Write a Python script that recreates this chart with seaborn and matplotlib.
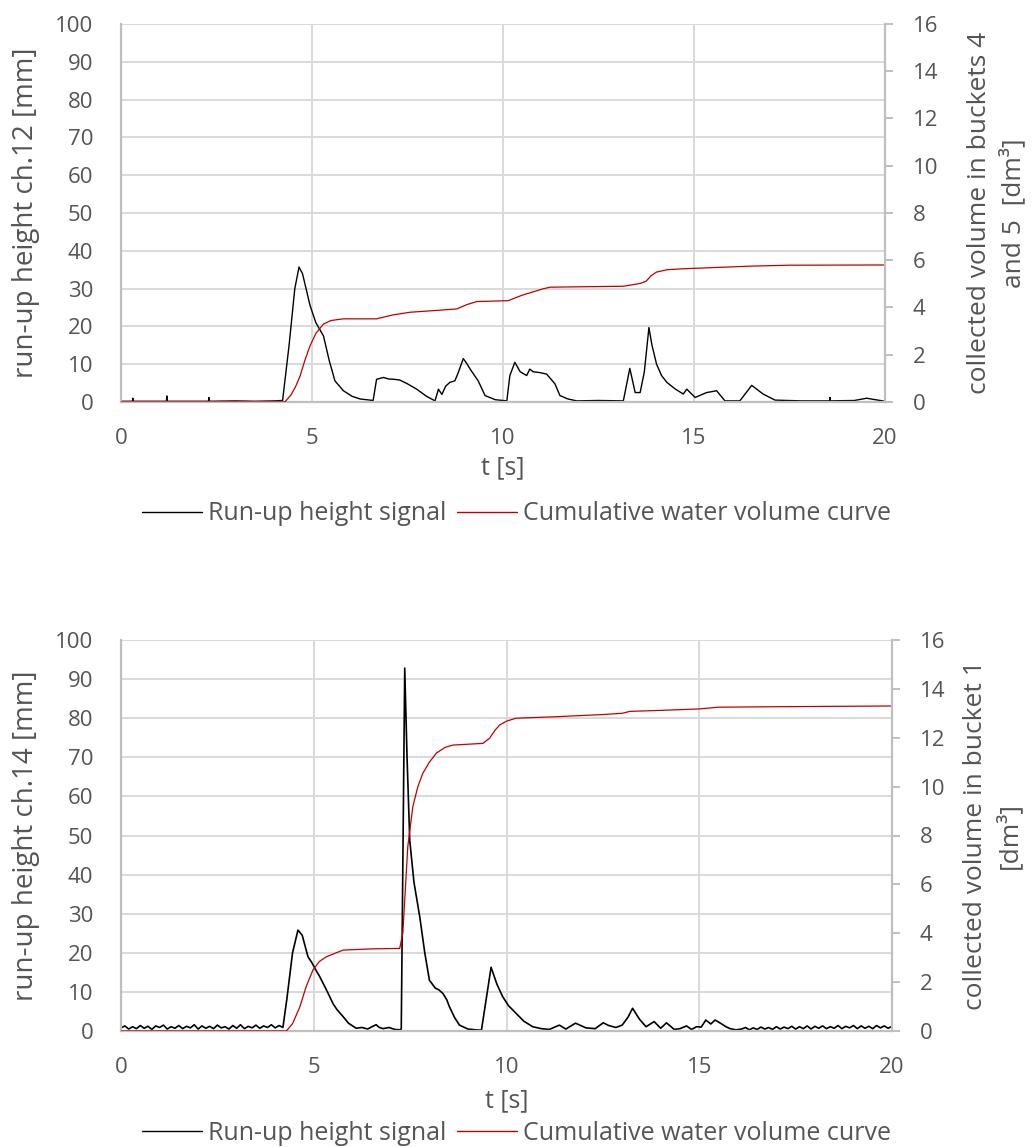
import numpy as np
import matplotlib
matplotlib.use("Agg")
import matplotlib.pyplot as plt
import seaborn as sns
from matplotlib.lines import Line2D

# ---------------- data ----------------
# Panel 1: channel 12, run-up height [mm]
t_ch12 = [0.0, 0.3, 0.31, 0.32, 1.19, 1.2, 1.21, 2.29, 2.3, 2.31, 3.0, 3.5, 4.0, 4.23,
          4.4, 4.55, 4.66, 4.75, 4.95, 5.1, 5.3, 5.45, 5.6, 5.82, 6.05, 6.26, 6.6, 6.69,
          6.8, 6.87, 7.0, 7.15, 7.3, 7.5, 7.74, 8.0, 8.22, 8.31, 8.4, 8.5, 8.61, 8.74,
          8.83, 8.96, 9.05, 9.14, 9.35, 9.53, 9.8, 10.1, 10.18, 10.31, 10.45, 10.62, 10.7,
          10.79, 10.95, 11.14, 11.36, 11.49, 11.7, 11.93, 12.5, 13.15, 13.32, 13.46, 13.59,
          13.7, 13.82, 13.9, 14.02, 14.15, 14.29, 14.5, 14.72, 14.81, 15.03, 15.33, 15.5,
          15.59, 15.81, 16.2, 16.51, 16.81, 17.12, 17.8, 18.55, 18.56, 18.57, 19.2, 19.52,
          19.75, 20.0]
h_ch12 = [0.2, 0.2, 1.0, 0.2, 0.2, 1.6, 0.2, 0.2, 1.2, 0.2, 0.3, 0.2, 0.3, 0.4,
          15, 30, 35.7, 34, 25.5, 21, 17.5, 11, 5.6, 3.0, 1.5, 0.8, 0.4, 6.0,
          6.3, 6.5, 6.1, 6.0, 5.8, 4.8, 3.4, 1.5, 0.3, 3.4, 2.0, 4.2, 5.2, 5.6,
          7.8, 11.5, 10.2, 8.7, 5.6, 1.7, 0.6, 0.3, 7.0, 10.5, 8.0, 7.0, 8.7,
          8.0, 7.8, 7.4, 4.8, 1.7, 0.8, 0.3, 0.4, 0.3, 8.9, 2.5, 2.5,
          8.0, 19.7, 15, 10, 7, 5.2, 3.5, 2.1, 3.4, 1.2, 2.5, 2.8,
          3.0, 0.3, 0.3, 4.4, 2.1, 0.5, 0.3, 0.3, 1.2, 0.3, 0.4, 1.0,
          0.6, 0.2]

# Panel 1: cumulative volume in buckets 4 and 5 [dm3]
t_vol45 = [0.0, 4.29, 4.45, 4.57, 4.69, 4.82, 4.95, 5.1, 5.3, 5.5, 5.82, 6.69, 7.1, 7.57,
           8.3, 8.79, 9.05, 9.31, 10.14, 10.5, 11.05, 11.23, 13.15, 13.6, 13.75, 13.88,
           14.02, 14.3, 14.72, 16.47, 17.5, 20.0]
v_vol45 = [0.0, 0.0, 0.3, 0.65, 1.11, 1.8, 2.38, 2.9, 3.3, 3.45, 3.52, 3.52, 3.68, 3.8,
           3.88, 3.94, 4.12, 4.25, 4.29, 4.52, 4.79, 4.86, 4.9, 5.02, 5.12, 5.35,
           5.5, 5.6, 5.64, 5.75, 5.79, 5.8]

# Panel 2: channel 14, run-up height [mm] (noisy baseline before the first wave)
t_ch14_start = np.round(np.arange(0.0, 4.21, 0.1), 2)
h_ch14_start = [0.8, 1.3, 0.5, 1.1, 0.6, 1.4, 0.7, 1.2, 0.4, 1.3, 0.9, 1.5, 0.5, 1.1,
                0.7, 1.4, 0.6, 1.2, 0.8, 1.6, 0.5, 1.3, 0.7, 1.2, 0.6, 1.5, 0.8, 1.1,
                0.5, 1.4, 0.7, 1.6, 0.6, 1.2, 0.8, 1.5, 0.7, 1.3, 0.9, 1.6, 0.8, 1.4, 0.9]
ch14_waves = [(4.3, 8), (4.45, 20), (4.59, 25.8), (4.7, 24.5), (4.85, 19), (4.95, 17.5),
              (5.03, 16), (5.15, 14), (5.33, 10.5), (5.5, 7), (5.6, 5.5), (5.76, 3.7),
              (5.9, 2.0), (6.1, 0.7), (6.25, 0.9), (6.4, 0.5), (6.55, 1.3), (6.62, 1.6),
              (6.7, 0.9), (6.8, 0.6), (6.95, 0.9), (7.1, 0.4), (7.23, 0.3), (7.27, 0.5),
              (7.36, 92.8), (7.42, 70), (7.49, 48.8), (7.6, 38), (7.75, 29.2), (7.88, 20),
              (8.0, 13), (8.15, 11), (8.25, 10.5), (8.35, 9.6), (8.45, 8), (8.52, 6.2),
              (8.65, 3.5), (8.78, 1.5), (9.0, 0.5), (9.2, 0.3), (9.35, 0.2), (9.47, 8),
              (9.6, 16.3), (9.75, 12), (9.9, 8.8), (10.05, 6.5), (10.25, 4.5), (10.45, 2.5),
              (10.68, 1.1), (10.9, 0.6), (11.11, 0.4), (11.25, 1.0), (11.37, 1.5),
              (11.54, 0.5), (11.79, 2.0), (11.9, 1.5), (12.06, 0.8), (12.3, 0.6),
              (12.51, 2.1), (12.65, 1.4), (12.84, 0.9), (13.0, 1.5), (13.15, 3.5),
              (13.27, 5.8), (13.45, 3.0), (13.62, 1.1), (13.83, 2.4), (14.0, 0.7),
              (14.15, 2.1), (14.35, 0.4), (14.5, 0.6), (14.67, 1.3), (14.8, 0.4),
              (14.93, 1.1), (15.05, 1.0), (15.17, 2.8), (15.3, 1.8), (15.41, 2.8),
              (15.55, 2.0), (15.69, 1.1), (15.8, 0.6), (15.95, 0.3)]
t_ch14_end = np.round(np.arange(16.1, 20.01, 0.1), 2)
h_ch14_end = [0.5, 0.9, 0.3, 0.8, 0.4, 1.0, 0.5, 0.9, 0.4, 1.1, 0.5, 1.0, 0.6, 1.2,
              0.5, 1.1, 0.6, 1.3, 0.5, 1.2, 0.7, 1.3, 0.6, 1.1, 0.7, 1.4, 0.6, 1.2,
              0.8, 1.4, 0.6, 1.3, 0.7, 1.2, 0.6, 1.4, 0.8, 1.3, 0.7, 1.2]

# Panel 2: cumulative volume in bucket 1 [dm3]
vol1_points = [(0.0, 0.0), (4.29, 0.0), (4.45, 0.3), (4.64, 0.99), (4.8, 1.8), (4.98, 2.5),
               (5.15, 2.85), (5.33, 3.04), (5.76, 3.31), (6.5, 3.36), (7.23, 3.38),
               (7.31, 4.0), (7.44, 7.55), (7.57, 9.18), (7.7, 10.0), (7.83, 10.55),
               (8.0, 11.0), (8.18, 11.37), (8.4, 11.6), (8.61, 11.7), (9.39, 11.77),
               (9.56, 11.98), (9.7, 12.3), (9.82, 12.52), (10.0, 12.68), (10.25, 12.8),
               (11.28, 12.86), (12.5, 12.95), (13.0, 13.0), (13.2, 13.08), (14.0, 13.12),
               (15.0, 13.18), (15.5, 13.25), (17.0, 13.27), (20.0, 13.3)]

x_ticks = [0, 5, 10, 15, 20]
left_ticks = list(range(0, 101, 10))
right_ticks = list(range(0, 17, 2))

label_left_1 = "run-up height ch.12 [mm]"
label_right_1 = "collected volume in buckets 4\nand 5  [dm³]"
label_left_2 = "run-up height ch.14 [mm]"
label_right_2 = "collected volume in bucket 1\n[dm³]"
label_x = "t [s]"
legend_labels = ["Run-up height signal", "Cumulative water volume curve"]

# ---------------- style ----------------
sns.set_theme(style="white")
plt.rcParams['font.family'] = ['Open Sans', 'DejaVu Sans']
TXT = '#555555'
GRID = '#d9d9d9'
SPINE = '#bfbfbf'
RED = '#c00000'
FS_TICK = 16
FS_LAB = 20
FS_RLAB = 19
FS_X = 18
FS_LEG = 18

W, H = 1035, 1147
fig = plt.figure(figsize=(W / 100, H / 100), dpi=100)


def px_rect(left, right, top, bottom):
    return [left / W, 1 - bottom / H, (right - left) / W, (bottom - top) / H]


def panel(rect, t_h, h, t_v, v, ylab, rlab, lw_black, lab_x_left, lab_x_right, xlab_y, leg_y):
    ax = fig.add_axes(rect)
    ax2 = ax.twinx()
    sns.lineplot(x=np.asarray(t_h), y=np.asarray(h), ax=ax, color='black', lw=lw_black,
                 estimator=None, sort=False)
    sns.lineplot(x=np.asarray(t_v), y=np.asarray(v), ax=ax2, color=RED, lw=0.9,
                 estimator=None, sort=False)
    ax.set_xlim(0, 20)
    ax.set_ylim(0, 100)
    ax2.set_ylim(0, 16)
    ax.set_xticks(x_ticks)
    ax.set_xticklabels([str(x) for x in x_ticks])
    ax.set_yticks(left_ticks)
    ax.set_yticklabels([str(y) for y in left_ticks])
    ax2.set_yticks(right_ticks)
    ax2.set_yticklabels([str(y) for y in right_ticks])
    ax.grid(True, color=GRID, lw=1.4)
    ax2.grid(False)
    for s in ['top', 'right']:
        ax.spines[s].set_visible(False)
    for s in ['left', 'bottom']:
        ax.spines[s].set_color(SPINE)
        ax.spines[s].set_linewidth(1.6)
    for s in ['top', 'left', 'bottom']:
        ax2.spines[s].set_visible(False)
    ax2.spines['right'].set_color(SPINE)
    ax2.spines['right'].set_linewidth(1.6)
    ax.tick_params(axis='both', length=0, labelsize=FS_TICK, labelcolor=TXT)
    ax.tick_params(axis='y', pad=20)
    ax.tick_params(axis='x', pad=19)
    ax2.tick_params(axis='y', direction='out', length=6, width=1.4, color=SPINE, pad=14,
                    labelsize=FS_TICK, labelcolor=TXT)
    ax.set_xlabel(label_x, fontsize=FS_X, color=TXT)
    ax.xaxis.set_label_coords(0.5, xlab_y)
    ax.set_ylabel(ylab, fontsize=FS_LAB, color=TXT)
    ax.yaxis.set_label_coords(lab_x_left, 0.5)
    ax2.set_ylabel(rlab, fontsize=FS_RLAB, color=TXT, multialignment='center',
                   linespacing=1.35)
    ax2.yaxis.set_label_coords(lab_x_right, 0.5)
    handles = [Line2D([], [], color='black', lw=1.0), Line2D([], [], color=RED, lw=1.0)]
    fig.legend(handles, legend_labels, loc='center', bbox_to_anchor=(0.499, leg_y), ncol=2,
               frameon=False, fontsize=FS_LEG, handlelength=2.4, handletextpad=0.25,
               columnspacing=0.4, labelcolor=TXT)
    return ax, ax2


t14 = list(t_ch14_start) + [p[0] for p in ch14_waves] + list(t_ch14_end)
h14 = list(h_ch14_start) + [p[1] for p in ch14_waves] + list(h_ch14_end)

panel(px_rect(121, 885, 24, 402), t_ch12, h_ch12, t_vol45, v_vol45,
      label_left_1, label_right_1, 1.0, -0.106, 1.107, -0.142, 1 - 514 / H)
panel(px_rect(121, 892, 640, 1031), t14, h14,
      [p[0] for p in vol1_points], [p[1] for p in vol1_points],
      label_left_2, label_right_2, 1.2, -0.105, 1.092, -0.147, 1 - 1133 / H)

fig.savefig("out.png", dpi=100)
